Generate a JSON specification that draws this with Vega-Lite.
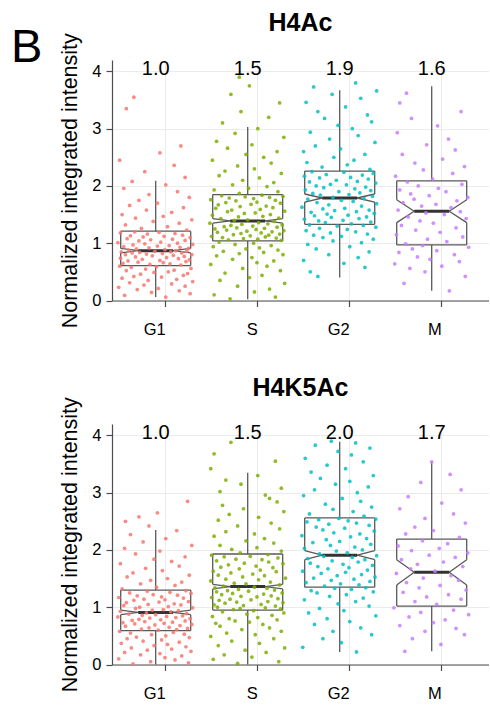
{
"$schema":"https://vega.github.io/schema/vega-lite/v6.json",
"padding":{"left":11,"top":11,"right":0,"bottom":0},
"title":{"text":"B","orient":"left","anchor":"end","frame":"bounds","angle":0,"align":"right","baseline":"top","fontSize":47,"fontWeight":"normal","font":"Liberation Sans","color":"#000","offset":-14,"dy":14},
"datasets":{
"boxA":[
{"g":"G1","lo":0.06,"q1":0.61,"nlo":0.83,"med":0.87,"nhi":0.91,"q3":1.21,"hi":2.09,"lab":"1.0"},
{"g":"S","lo":0.02,"q1":1.04,"nlo":1.35,"med":1.39,"nhi":1.43,"q3":1.85,"hi":3.03,"lab":"1.5"},
{"g":"G2","lo":0.4,"q1":1.33,"nlo":1.72,"med":1.79,"nhi":1.86,"q3":2.26,"hi":3.67,"lab":"1.9"},
{"g":"M","lo":0.17,"q1":0.97,"nlo":1.36,"med":1.56,"nhi":1.76,"q3":2.09,"hi":3.74,"lab":"1.6"}],
"boxB":[
{"g":"G1","lo":0.0,"q1":0.59,"nlo":0.87,"med":0.91,"nhi":0.95,"q3":1.3,"hi":2.35,"lab":"1.0"},
{"g":"S","lo":0.0,"q1":0.95,"nlo":1.32,"med":1.36,"nhi":1.4,"q3":1.93,"hi":3.35,"lab":"1.5"},
{"g":"G2","lo":0.22,"q1":1.35,"nlo":1.83,"med":1.91,"nhi":1.99,"q3":2.56,"hi":3.89,"lab":"2.0"},
{"g":"M","lo":0.23,"q1":1.02,"nlo":1.39,"med":1.61,"nhi":1.83,"q3":2.19,"hi":3.54,"lab":"1.7"}],
"ptsA":[
{"g":"G1","y":0.06,"j":0.12},{"g":"G1","y":0.09,"j":-0.37},{"g":"G1","y":0.12,"j":0.41},{"g":"G1","y":0.14,"j":-0.05},{"g":"G1","y":0.17,"j":0.28},{"g":"G1","y":0.19,"j":-0.22},{"g":"G1","y":0.21,"j":0.03},{"g":"G1","y":0.23,"j":-0.44},{"g":"G1","y":0.25,"j":0.35},{"g":"G1","y":0.27,"j":-0.14},
{"g":"G1","y":0.29,"j":0.19},{"g":"G1","y":0.31,"j":-0.31},{"g":"G1","y":0.33,"j":0.44},{"g":"G1","y":0.35,"j":-0.09},{"g":"G1","y":0.37,"j":0.25},{"g":"G1","y":0.39,"j":-0.4},{"g":"G1","y":0.41,"j":0.07},{"g":"G1","y":0.42,"j":-0.26},{"g":"G1","y":0.44,"j":0.33},{"g":"G1","y":0.46,"j":-0.18},
{"g":"G1","y":0.47,"j":0.38},{"g":"G1","y":0.49,"j":-0.02},{"g":"G1","y":0.5,"j":0.15},{"g":"G1","y":0.52,"j":-0.35},{"g":"G1","y":0.53,"j":0.22},{"g":"G1","y":0.55,"j":-0.12},{"g":"G1","y":0.56,"j":0.42},{"g":"G1","y":0.58,"j":-0.29},{"g":"G1","y":0.59,"j":0.01},{"g":"G1","y":0.6,"j":-0.43},
{"g":"G1","y":0.62,"j":0.3},{"g":"G1","y":0.63,"j":-0.07},{"g":"G1","y":0.64,"j":0.17},{"g":"G1","y":0.65,"j":-0.39},{"g":"G1","y":0.66,"j":0.09},{"g":"G1","y":0.67,"j":-0.21},{"g":"G1","y":0.68,"j":0.36},{"g":"G1","y":0.69,"j":-0.33},{"g":"G1","y":0.7,"j":0.05},{"g":"G1","y":0.71,"j":0.4},
{"g":"G1","y":0.72,"j":-0.16},{"g":"G1","y":0.73,"j":0.27},{"g":"G1","y":0.74,"j":-0.42},{"g":"G1","y":0.75,"j":0.13},{"g":"G1","y":0.76,"j":-0.24},{"g":"G1","y":0.77,"j":0.34},{"g":"G1","y":0.78,"j":-0.04},{"g":"G1","y":0.79,"j":0.21},{"g":"G1","y":0.8,"j":-0.36},{"g":"G1","y":0.8,"j":0.43},
{"g":"G1","y":0.81,"j":-0.11},{"g":"G1","y":0.82,"j":0.08},{"g":"G1","y":0.83,"j":-0.28},{"g":"G1","y":0.83,"j":0.31},{"g":"G1","y":0.84,"j":-0.19},{"g":"G1","y":0.85,"j":0.18},{"g":"G1","y":0.85,"j":-0.41},{"g":"G1","y":0.86,"j":0.37},{"g":"G1","y":0.86,"j":-0.01},{"g":"G1","y":0.87,"j":0.24},
{"g":"G1","y":0.88,"j":-0.32},{"g":"G1","y":0.89,"j":0.11},{"g":"G1","y":0.9,"j":-0.23},{"g":"G1","y":0.91,"j":0.39},{"g":"G1","y":0.92,"j":-0.08},{"g":"G1","y":0.93,"j":0.29},{"g":"G1","y":0.94,"j":-0.38},{"g":"G1","y":0.95,"j":0.02},{"g":"G1","y":0.96,"j":0.16},{"g":"G1","y":0.97,"j":-0.27},
{"g":"G1","y":0.98,"j":0.44},{"g":"G1","y":0.99,"j":-0.13},{"g":"G1","y":1.0,"j":0.26},{"g":"G1","y":1.01,"j":-0.45},{"g":"G1","y":1.02,"j":0.06},{"g":"G1","y":1.04,"j":-0.2},{"g":"G1","y":1.05,"j":0.35},{"g":"G1","y":1.06,"j":-0.06},{"g":"G1","y":1.07,"j":0.2},{"g":"G1","y":1.08,"j":-0.34},
{"g":"G1","y":1.1,"j":0.41},{"g":"G1","y":1.11,"j":-0.15},{"g":"G1","y":1.12,"j":0.1},{"g":"G1","y":1.13,"j":-0.3},{"g":"G1","y":1.14,"j":0.32},{"g":"G1","y":1.16,"j":-0.1},{"g":"G1","y":1.17,"j":0.23},{"g":"G1","y":1.18,"j":-0.42},{"g":"G1","y":1.19,"j":0.04},{"g":"G1","y":1.2,"j":-0.25},
{"g":"G1","y":1.23,"j":0.37},{"g":"G1","y":1.26,"j":-0.17},{"g":"G1","y":1.29,"j":0.14},{"g":"G1","y":1.32,"j":-0.36},{"g":"G1","y":1.35,"j":0.28},{"g":"G1","y":1.38,"j":-0.03},{"g":"G1","y":1.41,"j":0.43},{"g":"G1","y":1.44,"j":-0.24},{"g":"G1","y":1.47,"j":0.09},{"g":"G1","y":1.5,"j":-0.4},
{"g":"G1","y":1.54,"j":0.19},{"g":"G1","y":1.58,"j":-0.11},{"g":"G1","y":1.62,"j":0.33},{"g":"G1","y":1.66,"j":-0.31},{"g":"G1","y":1.7,"j":0.02},{"g":"G1","y":1.75,"j":-0.2},{"g":"G1","y":1.8,"j":0.4},{"g":"G1","y":1.85,"j":-0.08},{"g":"G1","y":1.9,"j":0.26},{"g":"G1","y":1.96,"j":-0.38},
{"g":"G1","y":2.02,"j":0.12},{"g":"G1","y":2.08,"j":-0.28},{"g":"G1","y":2.15,"j":0.35},{"g":"G1","y":2.25,"j":-0.13},{"g":"G1","y":2.36,"j":0.22},{"g":"G1","y":2.45,"j":-0.43},{"g":"G1","y":2.58,"j":0.05},{"g":"G1","y":2.7,"j":0.3},{"g":"G1","y":3.35,"j":-0.35},{"g":"G1","y":3.55,"j":-0.26},
{"g":"S","y":0.03,"j":-0.21},{"g":"S","y":0.06,"j":0.33},{"g":"S","y":0.1,"j":-0.4},{"g":"S","y":0.15,"j":0.08},{"g":"S","y":0.2,"j":0.26},{"g":"S","y":0.25,"j":-0.12},{"g":"S","y":0.3,"j":0.44},{"g":"S","y":0.35,"j":-0.33},{"g":"S","y":0.4,"j":0.02},{"g":"S","y":0.44,"j":0.17},
{"g":"S","y":0.48,"j":-0.27},{"g":"S","y":0.52,"j":0.39},{"g":"S","y":0.56,"j":-0.06},{"g":"S","y":0.6,"j":0.23},{"g":"S","y":0.63,"j":-0.44},{"g":"S","y":0.66,"j":0.11},{"g":"S","y":0.69,"j":0.31},{"g":"S","y":0.72,"j":-0.18},{"g":"S","y":0.75,"j":0.05},{"g":"S","y":0.78,"j":-0.37},
{"g":"S","y":0.8,"j":0.42},{"g":"S","y":0.82,"j":-0.1},{"g":"S","y":0.84,"j":0.19},{"g":"S","y":0.86,"j":-0.29},{"g":"S","y":0.88,"j":0.36},{"g":"S","y":0.9,"j":-0.02},{"g":"S","y":0.92,"j":0.14},{"g":"S","y":0.94,"j":-0.41},{"g":"S","y":0.96,"j":0.28},{"g":"S","y":0.98,"j":-0.15},
{"g":"S","y":1.0,"j":0.07},{"g":"S","y":1.02,"j":-0.34},{"g":"S","y":1.05,"j":0.4},{"g":"S","y":1.06,"j":-0.23},{"g":"S","y":1.07,"j":0.12},{"g":"S","y":1.08,"j":-0.05},{"g":"S","y":1.09,"j":0.34},{"g":"S","y":1.1,"j":-0.3},{"g":"S","y":1.11,"j":0.21},{"g":"S","y":1.12,"j":-0.43},
{"g":"S","y":1.13,"j":0.03},{"g":"S","y":1.14,"j":0.25},{"g":"S","y":1.15,"j":-0.17},{"g":"S","y":1.16,"j":0.38},{"g":"S","y":1.17,"j":-0.08},{"g":"S","y":1.18,"j":0.16},{"g":"S","y":1.19,"j":-0.36},{"g":"S","y":1.2,"j":0.29},{"g":"S","y":1.21,"j":-0.01},{"g":"S","y":1.22,"j":0.43},
{"g":"S","y":1.23,"j":-0.25},{"g":"S","y":1.24,"j":0.1},{"g":"S","y":1.25,"j":-0.39},{"g":"S","y":1.26,"j":0.2},{"g":"S","y":1.27,"j":-0.13},{"g":"S","y":1.28,"j":0.35},{"g":"S","y":1.29,"j":-0.28},{"g":"S","y":1.3,"j":0.06},{"g":"S","y":1.31,"j":-0.2},{"g":"S","y":1.32,"j":0.41},
{"g":"S","y":1.33,"j":-0.07},{"g":"S","y":1.34,"j":0.24},{"g":"S","y":1.35,"j":-0.45},{"g":"S","y":1.36,"j":0.13},{"g":"S","y":1.38,"j":0.32},{"g":"S","y":1.4,"j":-0.16},{"g":"S","y":1.41,"j":0.0},{"g":"S","y":1.43,"j":-0.32},{"g":"S","y":1.44,"j":0.37},{"g":"S","y":1.46,"j":-0.11},
{"g":"S","y":1.47,"j":0.18},{"g":"S","y":1.49,"j":-0.42},{"g":"S","y":1.5,"j":0.27},{"g":"S","y":1.52,"j":-0.04},{"g":"S","y":1.53,"j":0.09},{"g":"S","y":1.55,"j":-0.24},{"g":"S","y":1.56,"j":0.44},{"g":"S","y":1.58,"j":-0.19},{"g":"S","y":1.59,"j":0.15},{"g":"S","y":1.61,"j":-0.38},
{"g":"S","y":1.62,"j":0.3},{"g":"S","y":1.64,"j":-0.09},{"g":"S","y":1.65,"j":0.22},{"g":"S","y":1.67,"j":-0.35},{"g":"S","y":1.68,"j":0.04},{"g":"S","y":1.7,"j":0.39},{"g":"S","y":1.71,"j":-0.26},{"g":"S","y":1.72,"j":0.11},{"g":"S","y":1.74,"j":-0.14},{"g":"S","y":1.75,"j":0.33},
{"g":"S","y":1.76,"j":-0.44},{"g":"S","y":1.78,"j":0.07},{"g":"S","y":1.79,"j":-0.22},{"g":"S","y":1.8,"j":0.26},{"g":"S","y":1.81,"j":-0.03},{"g":"S","y":1.82,"j":0.42},{"g":"S","y":1.83,"j":-0.31},{"g":"S","y":1.84,"j":0.17},{"g":"S","y":1.87,"j":-0.1},{"g":"S","y":1.9,"j":0.36},
{"g":"S","y":1.93,"j":-0.4},{"g":"S","y":1.96,"j":0.01},{"g":"S","y":1.99,"j":0.23},{"g":"S","y":2.02,"j":-0.18},{"g":"S","y":2.06,"j":0.31},{"g":"S","y":2.1,"j":-0.06},{"g":"S","y":2.14,"j":0.14},{"g":"S","y":2.18,"j":-0.34},{"g":"S","y":2.22,"j":0.4},{"g":"S","y":2.26,"j":-0.27},
{"g":"S","y":2.3,"j":0.08},{"g":"S","y":2.35,"j":-0.12},{"g":"S","y":2.4,"j":0.28},{"g":"S","y":2.45,"j":-0.42},{"g":"S","y":2.5,"j":0.19},{"g":"S","y":2.55,"j":-0.02},{"g":"S","y":2.6,"j":0.35},{"g":"S","y":2.66,"j":-0.24},{"g":"S","y":2.72,"j":0.05},{"g":"S","y":2.78,"j":-0.37},
{"g":"S","y":2.85,"j":0.43},{"g":"S","y":2.92,"j":-0.15},{"g":"S","y":3.0,"j":0.12},{"g":"S","y":3.1,"j":-0.3},{"g":"S","y":3.2,"j":0.25},{"g":"S","y":3.3,"j":-0.08},{"g":"S","y":3.45,"j":0.38},{"g":"S","y":3.6,"j":-0.2},{"g":"S","y":3.75,"j":0.02},{"g":"S","y":3.9,"j":-0.1},
{"g":"G2","y":0.42,"j":-0.26},{"g":"G2","y":0.5,"j":-0.35},{"g":"G2","y":0.58,"j":0.3},{"g":"G2","y":0.65,"j":0.05},{"g":"G2","y":0.7,"j":-0.43},{"g":"G2","y":0.75,"j":0.22},{"g":"G2","y":0.8,"j":-0.13},{"g":"G2","y":0.85,"j":0.35},{"g":"G2","y":0.9,"j":-0.28},{"g":"G2","y":0.94,"j":0.12},
{"g":"G2","y":0.98,"j":-0.38},{"g":"G2","y":1.01,"j":0.26},{"g":"G2","y":1.04,"j":-0.08},{"g":"G2","y":1.07,"j":0.4},{"g":"G2","y":1.1,"j":-0.2},{"g":"G2","y":1.12,"j":0.02},{"g":"G2","y":1.14,"j":-0.31},{"g":"G2","y":1.16,"j":0.33},{"g":"G2","y":1.18,"j":-0.11},{"g":"G2","y":1.2,"j":0.19},
{"g":"G2","y":1.22,"j":-0.4},{"g":"G2","y":1.24,"j":0.09},{"g":"G2","y":1.26,"j":-0.24},{"g":"G2","y":1.28,"j":0.43},{"g":"G2","y":1.3,"j":-0.03},{"g":"G2","y":1.31,"j":0.28},{"g":"G2","y":1.32,"j":-0.36},{"g":"G2","y":1.34,"j":0.14},{"g":"G2","y":1.36,"j":-0.17},{"g":"G2","y":1.37,"j":0.37},
{"g":"G2","y":1.39,"j":-0.25},{"g":"G2","y":1.4,"j":0.04},{"g":"G2","y":1.42,"j":-0.42},{"g":"G2","y":1.43,"j":0.23},{"g":"G2","y":1.45,"j":-0.1},{"g":"G2","y":1.46,"j":0.32},{"g":"G2","y":1.48,"j":-0.3},{"g":"G2","y":1.49,"j":0.1},{"g":"G2","y":1.51,"j":-0.15},{"g":"G2","y":1.52,"j":0.41},
{"g":"G2","y":1.54,"j":-0.34},{"g":"G2","y":1.55,"j":0.2},{"g":"G2","y":1.57,"j":-0.06},{"g":"G2","y":1.58,"j":0.35},{"g":"G2","y":1.6,"j":-0.2},{"g":"G2","y":1.61,"j":0.06},{"g":"G2","y":1.63,"j":-0.45},{"g":"G2","y":1.65,"j":0.26},{"g":"G2","y":1.67,"j":-0.13},{"g":"G2","y":1.69,"j":0.44},
{"g":"G2","y":1.71,"j":-0.27},{"g":"G2","y":1.73,"j":0.16},{"g":"G2","y":1.75,"j":0.02},{"g":"G2","y":1.77,"j":-0.38},{"g":"G2","y":1.78,"j":0.29},{"g":"G2","y":1.8,"j":-0.08},{"g":"G2","y":1.82,"j":0.39},{"g":"G2","y":1.84,"j":-0.23},{"g":"G2","y":1.85,"j":0.11},{"g":"G2","y":1.87,"j":-0.32},
{"g":"G2","y":1.88,"j":0.24},{"g":"G2","y":1.9,"j":-0.01},{"g":"G2","y":1.92,"j":0.37},{"g":"G2","y":1.93,"j":-0.41},{"g":"G2","y":1.95,"j":0.18},{"g":"G2","y":1.97,"j":-0.19},{"g":"G2","y":1.98,"j":0.31},{"g":"G2","y":2.0,"j":-0.28},{"g":"G2","y":2.02,"j":0.08},{"g":"G2","y":2.03,"j":-0.11},
{"g":"G2","y":2.05,"j":0.43},{"g":"G2","y":2.07,"j":-0.36},{"g":"G2","y":2.08,"j":0.21},{"g":"G2","y":2.1,"j":-0.04},{"g":"G2","y":2.12,"j":0.34},{"g":"G2","y":2.14,"j":-0.24},{"g":"G2","y":2.15,"j":0.13},{"g":"G2","y":2.17,"j":-0.42},{"g":"G2","y":2.19,"j":0.27},{"g":"G2","y":2.2,"j":-0.16},
{"g":"G2","y":2.22,"j":0.4},{"g":"G2","y":2.24,"j":0.05},{"g":"G2","y":2.25,"j":-0.33},{"g":"G2","y":2.29,"j":0.36},{"g":"G2","y":2.33,"j":-0.21},{"g":"G2","y":2.37,"j":0.09},{"g":"G2","y":2.41,"j":-0.39},{"g":"G2","y":2.45,"j":0.17},{"g":"G2","y":2.5,"j":-0.07},{"g":"G2","y":2.55,"j":0.3},
{"g":"G2","y":2.6,"j":-0.43},{"g":"G2","y":2.65,"j":0.01},{"g":"G2","y":2.7,"j":-0.29},{"g":"G2","y":2.76,"j":0.42},{"g":"G2","y":2.82,"j":-0.12},{"g":"G2","y":2.88,"j":0.22},{"g":"G2","y":2.94,"j":-0.35},{"g":"G2","y":3.0,"j":0.15},{"g":"G2","y":3.06,"j":-0.02},{"g":"G2","y":3.12,"j":0.38},
{"g":"G2","y":3.18,"j":-0.18},{"g":"G2","y":3.24,"j":0.33},{"g":"G2","y":3.3,"j":-0.26},{"g":"G2","y":3.38,"j":0.07},{"g":"G2","y":3.46,"j":-0.4},{"g":"G2","y":3.53,"j":0.25},{"g":"G2","y":3.6,"j":-0.09},{"g":"G2","y":3.66,"j":0.44},{"g":"G2","y":3.73,"j":-0.31},{"g":"G2","y":3.8,"j":0.19},
{"g":"M","y":0.17,"j":0.21},{"g":"M","y":0.3,"j":-0.33},{"g":"M","y":0.42,"j":0.4},{"g":"M","y":0.5,"j":-0.08},{"g":"M","y":0.56,"j":-0.26},{"g":"M","y":0.6,"j":0.12},{"g":"M","y":0.64,"j":-0.44},{"g":"M","y":0.68,"j":0.33},{"g":"M","y":0.72,"j":-0.02},{"g":"M","y":0.76,"j":-0.17},
{"g":"M","y":0.8,"j":0.27},{"g":"M","y":0.84,"j":-0.39},{"g":"M","y":0.87,"j":0.06},{"g":"M","y":0.9,"j":-0.23},{"g":"M","y":0.93,"j":0.44},{"g":"M","y":0.96,"j":-0.11},{"g":"M","y":0.99,"j":-0.31},{"g":"M","y":1.03,"j":0.18},{"g":"M","y":1.07,"j":-0.05},{"g":"M","y":1.11,"j":0.37},
{"g":"M","y":1.15,"j":-0.42},{"g":"M","y":1.19,"j":0.1},{"g":"M","y":1.23,"j":-0.19},{"g":"M","y":1.27,"j":0.29},{"g":"M","y":1.31,"j":-0.36},{"g":"M","y":1.35,"j":0.02},{"g":"M","y":1.39,"j":-0.14},{"g":"M","y":1.43,"j":0.41},{"g":"M","y":1.46,"j":-0.28},{"g":"M","y":1.5,"j":0.15},
{"g":"M","y":1.53,"j":-0.07},{"g":"M","y":1.55,"j":0.34},{"g":"M","y":1.58,"j":-0.4},{"g":"M","y":1.62,"j":0.23},{"g":"M","y":1.65,"j":-0.12},{"g":"M","y":1.68,"j":0.05},{"g":"M","y":1.71,"j":-0.34},{"g":"M","y":1.74,"j":0.3},{"g":"M","y":1.77,"j":-0.21},{"g":"M","y":1.8,"j":0.43},
{"g":"M","y":1.83,"j":-0.03},{"g":"M","y":1.86,"j":-0.25},{"g":"M","y":1.9,"j":0.17},{"g":"M","y":1.93,"j":-0.38},{"g":"M","y":1.96,"j":0.08},{"g":"M","y":2.0,"j":-0.16},{"g":"M","y":2.03,"j":0.36},{"g":"M","y":2.07,"j":-0.29},{"g":"M","y":2.12,"j":0.01},{"g":"M","y":2.17,"j":-0.43},
{"g":"M","y":2.22,"j":0.25},{"g":"M","y":2.28,"j":-0.1},{"g":"M","y":2.34,"j":0.39},{"g":"M","y":2.4,"j":-0.2},{"g":"M","y":2.47,"j":0.13},{"g":"M","y":2.55,"j":-0.35},{"g":"M","y":2.63,"j":0.28},{"g":"M","y":2.72,"j":-0.06},{"g":"M","y":2.82,"j":0.2},{"g":"M","y":2.93,"j":-0.41},
{"g":"M","y":3.05,"j":0.07},{"g":"M","y":3.18,"j":-0.24},{"g":"M","y":3.3,"j":0.35},{"g":"M","y":3.45,"j":-0.38},{"g":"M","y":3.62,"j":-0.3}],
"ptsB":[
{"g":"G1","y":0.01,"j":-0.27},{"g":"G1","y":0.03,"j":0.39},{"g":"G1","y":0.05,"j":-0.06},{"g":"G1","y":0.08,"j":0.23},{"g":"G1","y":0.1,"j":-0.44},{"g":"G1","y":0.12,"j":0.11},{"g":"G1","y":0.15,"j":0.31},{"g":"G1","y":0.17,"j":-0.18},{"g":"G1","y":0.19,"j":0.05},{"g":"G1","y":0.21,"j":-0.37},
{"g":"G1","y":0.23,"j":0.42},{"g":"G1","y":0.25,"j":-0.1},{"g":"G1","y":0.27,"j":0.19},{"g":"G1","y":0.29,"j":-0.29},{"g":"G1","y":0.31,"j":0.36},{"g":"G1","y":0.33,"j":-0.02},{"g":"G1","y":0.35,"j":0.14},{"g":"G1","y":0.37,"j":-0.41},{"g":"G1","y":0.39,"j":0.28},{"g":"G1","y":0.41,"j":-0.15},
{"g":"G1","y":0.43,"j":0.07},{"g":"G1","y":0.45,"j":-0.34},{"g":"G1","y":0.47,"j":0.4},{"g":"G1","y":0.48,"j":-0.23},{"g":"G1","y":0.5,"j":0.12},{"g":"G1","y":0.52,"j":-0.05},{"g":"G1","y":0.53,"j":0.34},{"g":"G1","y":0.55,"j":-0.3},{"g":"G1","y":0.56,"j":0.21},{"g":"G1","y":0.58,"j":-0.43},
{"g":"G1","y":0.6,"j":0.03},{"g":"G1","y":0.61,"j":0.25},{"g":"G1","y":0.62,"j":-0.17},{"g":"G1","y":0.63,"j":0.38},{"g":"G1","y":0.64,"j":-0.08},{"g":"G1","y":0.65,"j":0.16},{"g":"G1","y":0.67,"j":-0.36},{"g":"G1","y":0.68,"j":0.29},{"g":"G1","y":0.69,"j":-0.01},{"g":"G1","y":0.7,"j":0.43},
{"g":"G1","y":0.71,"j":-0.25},{"g":"G1","y":0.72,"j":0.1},{"g":"G1","y":0.73,"j":-0.39},{"g":"G1","y":0.74,"j":0.2},{"g":"G1","y":0.75,"j":-0.13},{"g":"G1","y":0.76,"j":0.35},{"g":"G1","y":0.77,"j":-0.28},{"g":"G1","y":0.78,"j":0.06},{"g":"G1","y":0.79,"j":-0.2},{"g":"G1","y":0.8,"j":0.41},
{"g":"G1","y":0.81,"j":-0.07},{"g":"G1","y":0.82,"j":0.24},{"g":"G1","y":0.83,"j":-0.45},{"g":"G1","y":0.84,"j":0.13},{"g":"G1","y":0.85,"j":0.32},{"g":"G1","y":0.86,"j":-0.16},{"g":"G1","y":0.87,"j":0.0},{"g":"G1","y":0.88,"j":-0.32},{"g":"G1","y":0.89,"j":0.37},{"g":"G1","y":0.9,"j":-0.11},
{"g":"G1","y":0.92,"j":0.18},{"g":"G1","y":0.93,"j":-0.42},{"g":"G1","y":0.94,"j":0.27},{"g":"G1","y":0.95,"j":-0.04},{"g":"G1","y":0.96,"j":0.09},{"g":"G1","y":0.98,"j":-0.24},{"g":"G1","y":0.99,"j":0.44},{"g":"G1","y":1.0,"j":-0.19},{"g":"G1","y":1.01,"j":0.15},{"g":"G1","y":1.03,"j":-0.38},
{"g":"G1","y":1.04,"j":0.3},{"g":"G1","y":1.05,"j":-0.09},{"g":"G1","y":1.06,"j":0.22},{"g":"G1","y":1.08,"j":-0.35},{"g":"G1","y":1.09,"j":0.04},{"g":"G1","y":1.1,"j":0.39},{"g":"G1","y":1.12,"j":-0.26},{"g":"G1","y":1.13,"j":0.11},{"g":"G1","y":1.14,"j":-0.14},{"g":"G1","y":1.16,"j":0.33},
{"g":"G1","y":1.17,"j":-0.44},{"g":"G1","y":1.18,"j":0.07},{"g":"G1","y":1.2,"j":-0.22},{"g":"G1","y":1.21,"j":0.26},{"g":"G1","y":1.22,"j":-0.03},{"g":"G1","y":1.24,"j":0.42},{"g":"G1","y":1.25,"j":-0.31},{"g":"G1","y":1.26,"j":0.17},{"g":"G1","y":1.28,"j":-0.1},{"g":"G1","y":1.29,"j":0.36},
{"g":"G1","y":1.32,"j":-0.4},{"g":"G1","y":1.35,"j":0.01},{"g":"G1","y":1.38,"j":0.23},{"g":"G1","y":1.41,"j":-0.18},{"g":"G1","y":1.44,"j":0.31},{"g":"G1","y":1.47,"j":-0.06},{"g":"G1","y":1.5,"j":0.14},{"g":"G1","y":1.53,"j":-0.34},{"g":"G1","y":1.56,"j":0.4},{"g":"G1","y":1.6,"j":-0.27},
{"g":"G1","y":1.64,"j":0.08},{"g":"G1","y":1.68,"j":-0.12},{"g":"G1","y":1.72,"j":0.28},{"g":"G1","y":1.76,"j":-0.42},{"g":"G1","y":1.8,"j":0.19},{"g":"G1","y":1.84,"j":-0.02},{"g":"G1","y":1.88,"j":0.35},{"g":"G1","y":1.93,"j":-0.24},{"g":"G1","y":1.98,"j":0.05},{"g":"G1","y":2.03,"j":-0.37},
{"g":"G1","y":2.08,"j":0.43},{"g":"G1","y":2.14,"j":-0.15},{"g":"G1","y":2.2,"j":0.12},{"g":"G1","y":2.27,"j":-0.3},{"g":"G1","y":2.34,"j":0.25},{"g":"G1","y":2.42,"j":-0.08},{"g":"G1","y":2.5,"j":-0.36},{"g":"G1","y":2.58,"j":-0.2},{"g":"G1","y":2.65,"j":0.02},{"g":"G1","y":2.85,"j":0.38},
{"g":"S","y":0.02,"j":-0.12},{"g":"S","y":0.05,"j":0.37},{"g":"S","y":0.09,"j":-0.41},{"g":"S","y":0.13,"j":0.05},{"g":"S","y":0.17,"j":-0.28},{"g":"S","y":0.21,"j":0.22},{"g":"S","y":0.25,"j":-0.03},{"g":"S","y":0.29,"j":0.44},{"g":"S","y":0.33,"j":-0.35},{"g":"S","y":0.37,"j":0.14},
{"g":"S","y":0.41,"j":-0.19},{"g":"S","y":0.45,"j":0.31},{"g":"S","y":0.49,"j":-0.44},{"g":"S","y":0.52,"j":0.09},{"g":"S","y":0.55,"j":-0.25},{"g":"S","y":0.58,"j":0.4},{"g":"S","y":0.61,"j":-0.07},{"g":"S","y":0.64,"j":0.26},{"g":"S","y":0.67,"j":-0.33},{"g":"S","y":0.7,"j":0.18},
{"g":"S","y":0.72,"j":-0.38},{"g":"S","y":0.74,"j":0.02},{"g":"S","y":0.76,"j":-0.15},{"g":"S","y":0.78,"j":0.35},{"g":"S","y":0.8,"j":-0.22},{"g":"S","y":0.82,"j":0.12},{"g":"S","y":0.84,"j":-0.42},{"g":"S","y":0.86,"j":0.29},{"g":"S","y":0.88,"j":-0.01},{"g":"S","y":0.9,"j":0.43},
{"g":"S","y":0.92,"j":-0.3},{"g":"S","y":0.94,"j":0.07},{"g":"S","y":0.96,"j":-0.17},{"g":"S","y":0.97,"j":0.39},{"g":"S","y":0.98,"j":-0.09},{"g":"S","y":0.99,"j":0.21},{"g":"S","y":1.0,"j":-0.36},{"g":"S","y":1.02,"j":0.33},{"g":"S","y":1.03,"j":-0.05},{"g":"S","y":1.04,"j":-0.4},
{"g":"S","y":1.05,"j":0.16},{"g":"S","y":1.07,"j":-0.27},{"g":"S","y":1.08,"j":0.42},{"g":"S","y":1.09,"j":-0.13},{"g":"S","y":1.1,"j":0.24},{"g":"S","y":1.12,"j":-0.34},{"g":"S","y":1.13,"j":0.04},{"g":"S","y":1.14,"j":-0.21},{"g":"S","y":1.15,"j":0.36},{"g":"S","y":1.17,"j":-0.43},
{"g":"S","y":1.18,"j":0.11},{"g":"S","y":1.19,"j":-0.08},{"g":"S","y":1.2,"j":0.28},{"g":"S","y":1.22,"j":-0.31},{"g":"S","y":1.23,"j":0.19},{"g":"S","y":1.24,"j":-0.18},{"g":"S","y":1.25,"j":0.41},{"g":"S","y":1.27,"j":-0.37},{"g":"S","y":1.28,"j":0.01},{"g":"S","y":1.29,"j":-0.24},
{"g":"S","y":1.3,"j":0.32},{"g":"S","y":1.31,"j":-0.11},{"g":"S","y":1.33,"j":0.23},{"g":"S","y":1.34,"j":-0.39},{"g":"S","y":1.35,"j":0.08},{"g":"S","y":1.37,"j":-0.29},{"g":"S","y":1.39,"j":0.38},{"g":"S","y":1.41,"j":-0.02},{"g":"S","y":1.42,"j":-0.16},{"g":"S","y":1.44,"j":0.27},
{"g":"S","y":1.46,"j":-0.44},{"g":"S","y":1.48,"j":0.13},{"g":"S","y":1.49,"j":-0.26},{"g":"S","y":1.51,"j":0.45},{"g":"S","y":1.53,"j":-0.06},{"g":"S","y":1.55,"j":0.2},{"g":"S","y":1.56,"j":-0.35},{"g":"S","y":1.58,"j":0.06},{"g":"S","y":1.6,"j":-0.2},{"g":"S","y":1.62,"j":0.34},
{"g":"S","y":1.63,"j":-0.41},{"g":"S","y":1.65,"j":0.15},{"g":"S","y":1.67,"j":-0.1},{"g":"S","y":1.69,"j":0.3},{"g":"S","y":1.7,"j":-0.32},{"g":"S","y":1.72,"j":0.1},{"g":"S","y":1.74,"j":-0.23},{"g":"S","y":1.76,"j":0.42},{"g":"S","y":1.77,"j":-0.04},{"g":"S","y":1.79,"j":0.25},
{"g":"S","y":1.81,"j":-0.37},{"g":"S","y":1.83,"j":0.17},{"g":"S","y":1.84,"j":-0.14},{"g":"S","y":1.86,"j":0.36},{"g":"S","y":1.88,"j":-0.28},{"g":"S","y":1.89,"j":0.03},{"g":"S","y":1.91,"j":-0.43},{"g":"S","y":1.92,"j":0.24},{"g":"S","y":1.95,"j":-0.09},{"g":"S","y":1.98,"j":0.4},
{"g":"S","y":2.01,"j":-0.19},{"g":"S","y":2.04,"j":0.11},{"g":"S","y":2.08,"j":-0.33},{"g":"S","y":2.12,"j":0.31},{"g":"S","y":2.16,"j":-0.02},{"g":"S","y":2.2,"j":0.2},{"g":"S","y":2.24,"j":-0.4},{"g":"S","y":2.28,"j":0.08},{"g":"S","y":2.32,"j":-0.26},{"g":"S","y":2.37,"j":0.38},
{"g":"S","y":2.42,"j":-0.12},{"g":"S","y":2.47,"j":0.28},{"g":"S","y":2.52,"j":-0.35},{"g":"S","y":2.57,"j":0.13},{"g":"S","y":2.62,"j":-0.22},{"g":"S","y":2.67,"j":0.43},{"g":"S","y":2.72,"j":-0.05},{"g":"S","y":2.78,"j":-0.3},{"g":"S","y":2.84,"j":0.35},{"g":"S","y":2.9,"j":0.26},
{"g":"S","y":2.96,"j":0.21},{"g":"S","y":3.02,"j":-0.33},{"g":"S","y":3.08,"j":0.4},{"g":"S","y":3.15,"j":-0.08},{"g":"S","y":3.22,"j":-0.26},{"g":"S","y":3.3,"j":0.12},{"g":"S","y":3.42,"j":-0.44},{"g":"S","y":3.55,"j":0.33},{"g":"S","y":3.68,"j":-0.4},{"g":"S","y":3.88,"j":-0.2},
{"g":"G2","y":0.22,"j":0.2},{"g":"G2","y":0.3,"j":-0.44},{"g":"G2","y":0.38,"j":0.02},{"g":"G2","y":0.45,"j":-0.2},{"g":"G2","y":0.52,"j":0.38},{"g":"G2","y":0.58,"j":-0.08},{"g":"G2","y":0.64,"j":0.25},{"g":"G2","y":0.7,"j":-0.3},{"g":"G2","y":0.75,"j":0.12},{"g":"G2","y":0.8,"j":-0.15},
{"g":"G2","y":0.85,"j":0.43},{"g":"G2","y":0.9,"j":-0.37},{"g":"G2","y":0.94,"j":0.05},{"g":"G2","y":0.98,"j":-0.24},{"g":"G2","y":1.02,"j":0.35},{"g":"G2","y":1.06,"j":-0.02},{"g":"G2","y":1.1,"j":0.19},{"g":"G2","y":1.13,"j":-0.42},{"g":"G2","y":1.16,"j":0.28},{"g":"G2","y":1.19,"j":-0.12},
{"g":"G2","y":1.22,"j":0.08},{"g":"G2","y":1.25,"j":-0.27},{"g":"G2","y":1.27,"j":0.4},{"g":"G2","y":1.29,"j":-0.34},{"g":"G2","y":1.31,"j":0.14},{"g":"G2","y":1.33,"j":-0.06},{"g":"G2","y":1.34,"j":0.31},{"g":"G2","y":1.37,"j":-0.18},{"g":"G2","y":1.39,"j":0.23},{"g":"G2","y":1.41,"j":0.01},
{"g":"G2","y":1.43,"j":-0.4},{"g":"G2","y":1.45,"j":0.36},{"g":"G2","y":1.47,"j":-0.1},{"g":"G2","y":1.49,"j":0.17},{"g":"G2","y":1.51,"j":-0.31},{"g":"G2","y":1.53,"j":0.42},{"g":"G2","y":1.55,"j":-0.03},{"g":"G2","y":1.57,"j":0.26},{"g":"G2","y":1.59,"j":-0.22},{"g":"G2","y":1.61,"j":0.07},
{"g":"G2","y":1.63,"j":-0.44},{"g":"G2","y":1.65,"j":0.33},{"g":"G2","y":1.67,"j":-0.14},{"g":"G2","y":1.69,"j":0.11},{"g":"G2","y":1.71,"j":-0.26},{"g":"G2","y":1.73,"j":0.39},{"g":"G2","y":1.75,"j":0.04},{"g":"G2","y":1.77,"j":-0.35},{"g":"G2","y":1.79,"j":0.22},{"g":"G2","y":1.81,"j":-0.09},
{"g":"G2","y":1.83,"j":0.3},{"g":"G2","y":1.85,"j":-0.38},{"g":"G2","y":1.87,"j":0.15},{"g":"G2","y":1.89,"j":-0.19},{"g":"G2","y":1.9,"j":0.44},{"g":"G2","y":1.93,"j":-0.24},{"g":"G2","y":1.95,"j":0.09},{"g":"G2","y":1.98,"j":-0.04},{"g":"G2","y":2.0,"j":0.27},{"g":"G2","y":2.03,"j":-0.42},
{"g":"G2","y":2.05,"j":0.18},{"g":"G2","y":2.08,"j":-0.11},{"g":"G2","y":2.1,"j":0.37},{"g":"G2","y":2.13,"j":-0.32},{"g":"G2","y":2.15,"j":0.0},{"g":"G2","y":2.18,"j":-0.16},{"g":"G2","y":2.2,"j":0.32},{"g":"G2","y":2.23,"j":0.13},{"g":"G2","y":2.25,"j":-0.45},{"g":"G2","y":2.28,"j":0.24},
{"g":"G2","y":2.3,"j":-0.07},{"g":"G2","y":2.33,"j":0.41},{"g":"G2","y":2.35,"j":-0.2},{"g":"G2","y":2.38,"j":0.06},{"g":"G2","y":2.4,"j":-0.28},{"g":"G2","y":2.43,"j":0.35},{"g":"G2","y":2.45,"j":-0.13},{"g":"G2","y":2.47,"j":0.2},{"g":"G2","y":2.49,"j":-0.39},{"g":"G2","y":2.51,"j":0.1},
{"g":"G2","y":2.53,"j":-0.25},{"g":"G2","y":2.54,"j":0.43},{"g":"G2","y":2.55,"j":-0.01},{"g":"G2","y":2.59,"j":0.29},{"g":"G2","y":2.63,"j":-0.36},{"g":"G2","y":2.67,"j":0.16},{"g":"G2","y":2.71,"j":-0.08},{"g":"G2","y":2.75,"j":0.38},{"g":"G2","y":2.8,"j":-0.17},{"g":"G2","y":2.85,"j":0.25},
{"g":"G2","y":2.9,"j":0.03},{"g":"G2","y":2.95,"j":-0.43},{"g":"G2","y":3.0,"j":0.21},{"g":"G2","y":3.05,"j":-0.3},{"g":"G2","y":3.1,"j":0.34},{"g":"G2","y":3.15,"j":-0.05},{"g":"G2","y":3.2,"j":0.12},{"g":"G2","y":3.25,"j":-0.23},{"g":"G2","y":3.3,"j":0.4},{"g":"G2","y":3.36,"j":-0.34},
{"g":"G2","y":3.42,"j":0.07},{"g":"G2","y":3.48,"j":-0.15},{"g":"G2","y":3.54,"j":0.28},{"g":"G2","y":3.6,"j":-0.41},{"g":"G2","y":3.66,"j":0.14},{"g":"G2","y":3.72,"j":-0.02},{"g":"G2","y":3.78,"j":0.36},{"g":"G2","y":3.83,"j":-0.29},{"g":"G2","y":3.87,"j":0.19},{"g":"G2","y":3.9,"j":-0.1},
{"g":"M","y":0.23,"j":-0.32},{"g":"M","y":0.35,"j":0.11},{"g":"M","y":0.45,"j":-0.23},{"g":"M","y":0.52,"j":0.39},{"g":"M","y":0.58,"j":-0.08},{"g":"M","y":0.63,"j":0.29},{"g":"M","y":0.68,"j":-0.38},{"g":"M","y":0.73,"j":0.02},{"g":"M","y":0.78,"j":0.16},{"g":"M","y":0.83,"j":-0.27},
{"g":"M","y":0.87,"j":0.44},{"g":"M","y":0.91,"j":-0.13},{"g":"M","y":0.95,"j":0.26},{"g":"M","y":0.99,"j":-0.45},{"g":"M","y":1.05,"j":0.06},{"g":"M","y":1.1,"j":-0.2},{"g":"M","y":1.14,"j":0.35},{"g":"M","y":1.18,"j":-0.06},{"g":"M","y":1.22,"j":0.2},{"g":"M","y":1.26,"j":-0.34},
{"g":"M","y":1.3,"j":0.41},{"g":"M","y":1.34,"j":-0.15},{"g":"M","y":1.38,"j":0.1},{"g":"M","y":1.43,"j":-0.3},{"g":"M","y":1.47,"j":0.32},{"g":"M","y":1.51,"j":-0.1},{"g":"M","y":1.55,"j":0.23},{"g":"M","y":1.59,"j":-0.42},{"g":"M","y":1.63,"j":0.04},{"g":"M","y":1.67,"j":-0.25},
{"g":"M","y":1.71,"j":0.37},{"g":"M","y":1.75,"j":-0.17},{"g":"M","y":1.79,"j":0.14},{"g":"M","y":1.83,"j":-0.36},{"g":"M","y":1.87,"j":0.28},{"g":"M","y":1.91,"j":-0.03},{"g":"M","y":1.95,"j":0.43},{"g":"M","y":1.99,"j":-0.24},{"g":"M","y":2.03,"j":0.09},{"g":"M","y":2.07,"j":-0.4},
{"g":"M","y":2.11,"j":0.19},{"g":"M","y":2.16,"j":-0.11},{"g":"M","y":2.22,"j":0.33},{"g":"M","y":2.28,"j":-0.31},{"g":"M","y":2.34,"j":0.02},{"g":"M","y":2.4,"j":-0.2},{"g":"M","y":2.47,"j":0.4},{"g":"M","y":2.55,"j":-0.08},{"g":"M","y":2.63,"j":0.26},{"g":"M","y":2.72,"j":-0.38},
{"g":"M","y":2.82,"j":0.12},{"g":"M","y":2.93,"j":-0.28},{"g":"M","y":3.05,"j":0.35},{"g":"M","y":3.18,"j":-0.13},{"g":"M","y":3.32,"j":0.22},{"g":"M","y":3.54,"j":0.0}]
},
"vconcat":[
{
"title":{"text":"H4Ac","fontSize":25,"fontWeight":"bold","font":"Liberation Sans","color":"#000","baseline":"alphabetic","offset":-23.5,"anchor":"middle","frame":"group"},
"width":377,"height":240.5,
"layer":[
{"data":{"name":"boxA"},"mark":{"type":"rule","color":"#595959","strokeWidth":1.3},"encoding":{"x":{"field":"g","type":"nominal","bandPosition":0.5},"y":{"field":"lo","type":"quantitative","title":"Normalized integrated intensity"},"y2":{"field":"q1"}}},
{"data":{"name":"boxA"},"mark":{"type":"rule","color":"#595959","strokeWidth":1.3},"encoding":{"x":{"field":"g","type":"nominal","bandPosition":0.5},"y":{"field":"q3","type":"quantitative","title":"Normalized integrated intensity"},"y2":{"field":"hi"}}},
{"data":{"name":"boxA"},"mark":{"type":"rule","color":"#595959","strokeWidth":1.3,"xOffset":-35,"x2Offset":35},"encoding":{"x":{"field":"g","type":"nominal","bandPosition":0.5},"x2":{"field":"g","bandPosition":0.5},"y":{"field":"q1","type":"quantitative","title":"Normalized integrated intensity"}}},
{"data":{"name":"boxA"},"mark":{"type":"rule","color":"#595959","strokeWidth":1.3,"xOffset":-35,"x2Offset":35},"encoding":{"x":{"field":"g","type":"nominal","bandPosition":0.5},"x2":{"field":"g","bandPosition":0.5},"y":{"field":"q3","type":"quantitative","title":"Normalized integrated intensity"}}},
{"data":{"name":"boxA"},"mark":{"type":"rule","color":"#595959","strokeWidth":1.3,"xOffset":-35},"encoding":{"x":{"field":"g","type":"nominal","bandPosition":0.5},"y":{"field":"q1","type":"quantitative","title":"Normalized integrated intensity"},"y2":{"field":"nlo"}}},
{"data":{"name":"boxA"},"mark":{"type":"rule","color":"#595959","strokeWidth":1.3,"xOffset":-35},"encoding":{"x":{"field":"g","type":"nominal","bandPosition":0.5},"y":{"field":"nhi","type":"quantitative","title":"Normalized integrated intensity"},"y2":{"field":"q3"}}},
{"data":{"name":"boxA"},"mark":{"type":"rule","color":"#595959","strokeWidth":1.3,"xOffset":35},"encoding":{"x":{"field":"g","type":"nominal","bandPosition":0.5},"y":{"field":"q1","type":"quantitative","title":"Normalized integrated intensity"},"y2":{"field":"nlo"}}},
{"data":{"name":"boxA"},"mark":{"type":"rule","color":"#595959","strokeWidth":1.3,"xOffset":35},"encoding":{"x":{"field":"g","type":"nominal","bandPosition":0.5},"y":{"field":"nhi","type":"quantitative","title":"Normalized integrated intensity"},"y2":{"field":"q3"}}},
{"data":{"name":"boxA"},"mark":{"type":"rule","color":"#595959","strokeWidth":1.3,"xOffset":-35,"x2Offset":-17.5},"encoding":{"x":{"field":"g","type":"nominal","bandPosition":0.5},"x2":{"field":"g","bandPosition":0.5},"y":{"field":"nlo","type":"quantitative","title":"Normalized integrated intensity"},"y2":{"field":"med"}}},
{"data":{"name":"boxA"},"mark":{"type":"rule","color":"#595959","strokeWidth":1.3,"xOffset":-17.5,"x2Offset":-35},"encoding":{"x":{"field":"g","type":"nominal","bandPosition":0.5},"x2":{"field":"g","bandPosition":0.5},"y":{"field":"med","type":"quantitative","title":"Normalized integrated intensity"},"y2":{"field":"nhi"}}},
{"data":{"name":"boxA"},"mark":{"type":"rule","color":"#595959","strokeWidth":1.3,"xOffset":35,"x2Offset":17.5},"encoding":{"x":{"field":"g","type":"nominal","bandPosition":0.5},"x2":{"field":"g","bandPosition":0.5},"y":{"field":"nlo","type":"quantitative","title":"Normalized integrated intensity"},"y2":{"field":"med"}}},
{"data":{"name":"boxA"},"mark":{"type":"rule","color":"#595959","strokeWidth":1.3,"xOffset":17.5,"x2Offset":35},"encoding":{"x":{"field":"g","type":"nominal","bandPosition":0.5},"x2":{"field":"g","bandPosition":0.5},"y":{"field":"med","type":"quantitative","title":"Normalized integrated intensity"},"y2":{"field":"nhi"}}},
{"data":{"name":"boxA"},"mark":{"type":"rule","color":"#333333","strokeWidth":3,"xOffset":-17.5,"x2Offset":17.5},"encoding":{"x":{"field":"g","type":"nominal","bandPosition":0.5},"x2":{"field":"g","bandPosition":0.5},"y":{"field":"med","type":"quantitative","title":"Normalized integrated intensity"}}},
{"data":{"name":"ptsA"},"mark":{"type":"circle","size":14,"opacity":0.85},"encoding":{
"x":{"field":"g","type":"nominal","scale":{"type":"band","domain":["G1","S","G2","M"],"paddingInner":0.087,"paddingOuter":0.0924,"align":0.1},"axis":{"labelAngle":0,"labelPadding":23,"grid":true,"tickSize":6,"bandPosition":0.5,"tickOffset":9.5},"title":null},
"xOffset":{"field":"j","type":"quantitative","scale":{"domain":[-0.5,0.5]}},
"y":{"field":"y","type":"quantitative","scale":{"domain":[0,4.2],"nice":false},"axis":{"values":[0,1,2,3,4],"format":"d","tickSize":6,"labelPadding":5,"titlePadding":10},"title":"Normalized integrated intensity"},
"color":{"field":"g","type":"nominal","scale":{"domain":["G1","S","G2","M"],"range":["#F8766D","#7CAE00","#00BFC4","#C77CFF"]},"legend":null}}},
{"data":{"name":"boxA"},"mark":{"type":"text","fontSize":20,"baseline":"alphabetic","color":"#000","font":"Liberation Sans"},"encoding":{"x":{"field":"g","type":"nominal","bandPosition":0.5},"y":{"datum":3.93},"text":{"field":"lab"}}}
]},
{
"title":{"text":"H4K5Ac","fontSize":25,"fontWeight":"bold","font":"Liberation Sans","color":"#000","baseline":"alphabetic","offset":-24,"anchor":"middle","frame":"group"},
"width":377,"height":240.5,
"layer":[
{"data":{"name":"boxB"},"mark":{"type":"rule","color":"#595959","strokeWidth":1.3},"encoding":{"x":{"field":"g","type":"nominal","bandPosition":0.5},"y":{"field":"lo","type":"quantitative","title":"Normalized integrated intensity"},"y2":{"field":"q1"}}},
{"data":{"name":"boxB"},"mark":{"type":"rule","color":"#595959","strokeWidth":1.3},"encoding":{"x":{"field":"g","type":"nominal","bandPosition":0.5},"y":{"field":"q3","type":"quantitative","title":"Normalized integrated intensity"},"y2":{"field":"hi"}}},
{"data":{"name":"boxB"},"mark":{"type":"rule","color":"#595959","strokeWidth":1.3,"xOffset":-35,"x2Offset":35},"encoding":{"x":{"field":"g","type":"nominal","bandPosition":0.5},"x2":{"field":"g","bandPosition":0.5},"y":{"field":"q1","type":"quantitative","title":"Normalized integrated intensity"}}},
{"data":{"name":"boxB"},"mark":{"type":"rule","color":"#595959","strokeWidth":1.3,"xOffset":-35,"x2Offset":35},"encoding":{"x":{"field":"g","type":"nominal","bandPosition":0.5},"x2":{"field":"g","bandPosition":0.5},"y":{"field":"q3","type":"quantitative","title":"Normalized integrated intensity"}}},
{"data":{"name":"boxB"},"mark":{"type":"rule","color":"#595959","strokeWidth":1.3,"xOffset":-35},"encoding":{"x":{"field":"g","type":"nominal","bandPosition":0.5},"y":{"field":"q1","type":"quantitative","title":"Normalized integrated intensity"},"y2":{"field":"nlo"}}},
{"data":{"name":"boxB"},"mark":{"type":"rule","color":"#595959","strokeWidth":1.3,"xOffset":-35},"encoding":{"x":{"field":"g","type":"nominal","bandPosition":0.5},"y":{"field":"nhi","type":"quantitative","title":"Normalized integrated intensity"},"y2":{"field":"q3"}}},
{"data":{"name":"boxB"},"mark":{"type":"rule","color":"#595959","strokeWidth":1.3,"xOffset":35},"encoding":{"x":{"field":"g","type":"nominal","bandPosition":0.5},"y":{"field":"q1","type":"quantitative","title":"Normalized integrated intensity"},"y2":{"field":"nlo"}}},
{"data":{"name":"boxB"},"mark":{"type":"rule","color":"#595959","strokeWidth":1.3,"xOffset":35},"encoding":{"x":{"field":"g","type":"nominal","bandPosition":0.5},"y":{"field":"nhi","type":"quantitative","title":"Normalized integrated intensity"},"y2":{"field":"q3"}}},
{"data":{"name":"boxB"},"mark":{"type":"rule","color":"#595959","strokeWidth":1.3,"xOffset":-35,"x2Offset":-17.5},"encoding":{"x":{"field":"g","type":"nominal","bandPosition":0.5},"x2":{"field":"g","bandPosition":0.5},"y":{"field":"nlo","type":"quantitative","title":"Normalized integrated intensity"},"y2":{"field":"med"}}},
{"data":{"name":"boxB"},"mark":{"type":"rule","color":"#595959","strokeWidth":1.3,"xOffset":-17.5,"x2Offset":-35},"encoding":{"x":{"field":"g","type":"nominal","bandPosition":0.5},"x2":{"field":"g","bandPosition":0.5},"y":{"field":"med","type":"quantitative","title":"Normalized integrated intensity"},"y2":{"field":"nhi"}}},
{"data":{"name":"boxB"},"mark":{"type":"rule","color":"#595959","strokeWidth":1.3,"xOffset":35,"x2Offset":17.5},"encoding":{"x":{"field":"g","type":"nominal","bandPosition":0.5},"x2":{"field":"g","bandPosition":0.5},"y":{"field":"nlo","type":"quantitative","title":"Normalized integrated intensity"},"y2":{"field":"med"}}},
{"data":{"name":"boxB"},"mark":{"type":"rule","color":"#595959","strokeWidth":1.3,"xOffset":17.5,"x2Offset":35},"encoding":{"x":{"field":"g","type":"nominal","bandPosition":0.5},"x2":{"field":"g","bandPosition":0.5},"y":{"field":"med","type":"quantitative","title":"Normalized integrated intensity"},"y2":{"field":"nhi"}}},
{"data":{"name":"boxB"},"mark":{"type":"rule","color":"#333333","strokeWidth":3,"xOffset":-17.5,"x2Offset":17.5},"encoding":{"x":{"field":"g","type":"nominal","bandPosition":0.5},"x2":{"field":"g","bandPosition":0.5},"y":{"field":"med","type":"quantitative","title":"Normalized integrated intensity"}}},
{"data":{"name":"ptsB"},"mark":{"type":"circle","size":14,"opacity":0.85},"encoding":{
"x":{"field":"g","type":"nominal","scale":{"type":"band","domain":["G1","S","G2","M"],"paddingInner":0.087,"paddingOuter":0.0924,"align":0.1},"axis":{"labelAngle":0,"labelPadding":23,"grid":true,"tickSize":6,"bandPosition":0.5,"tickOffset":9.5},"title":null},
"xOffset":{"field":"j","type":"quantitative","scale":{"domain":[-0.5,0.5]}},
"y":{"field":"y","type":"quantitative","scale":{"domain":[0,4.2],"nice":false},"axis":{"values":[0,1,2,3,4],"format":"d","tickSize":6,"labelPadding":5,"titlePadding":10},"title":"Normalized integrated intensity"},
"color":{"field":"g","type":"nominal","scale":{"domain":["G1","S","G2","M"],"range":["#F8766D","#7CAE00","#00BFC4","#C77CFF"]},"legend":null}}},
{"data":{"name":"boxB"},"mark":{"type":"text","fontSize":20,"baseline":"alphabetic","color":"#000","font":"Liberation Sans"},"encoding":{"x":{"field":"g","type":"nominal","bandPosition":0.5},"y":{"datum":3.93},"text":{"field":"lab"}}}
]}
],
"spacing":37,
"config":{
"font":"Liberation Sans",
"view":{"stroke":null},
"axis":{"domainColor":"#4d4d4d","domainWidth":1.2,"tickColor":"#4d4d4d","tickWidth":1.2,"gridColor":"#ebebeb","gridWidth":1,"labelColor":"#000","titleColor":"#000","labelFontSize":16.5,"titleFontSize":21.5,"titleFontWeight":"normal","labelFont":"Liberation Sans","titleFont":"Liberation Sans"}
}
}
